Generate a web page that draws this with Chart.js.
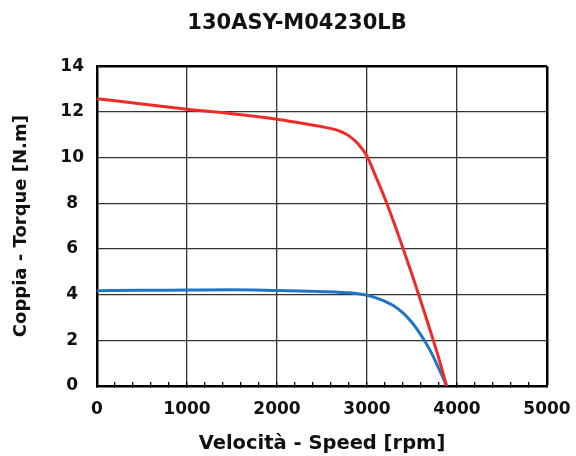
<!DOCTYPE html>
<html>
<head>
<meta charset="utf-8">
<script src="https://cdn.jsdelivr.net/npm/chart.js@4/dist/chart.umd.min.js"></script>
<style>
  html, body { margin: 0; padding: 0; background: #fff; }
  #box { width: 576px; height: 456px; }
</style>
</head>
<body>
<div id="box"><canvas id="myChart"></canvas></div>
<script>
// values
const speed = [0, 500, 1000, 1500, 2000, 2250, 2500, 2650, 2800, 2900, 3000, 3100, 3200, 3300, 3400, 3500, 3600, 3700, 3800, 3885];
const peakTorque = [12.58, 12.35, 12.12, 11.92, 11.68, 11.52, 11.35, 11.22, 10.95, 10.6, 10.06, 9.15, 8.2, 7.15, 6.03, 4.88, 3.69, 2.46, 1.19, 0];
const ratedTorque = [4.17, 4.19, 4.2, 4.21, 4.18, 4.16, 4.13, 4.11, 4.08, 4.04, 3.97, 3.86, 3.7, 3.5, 3.2, 2.78, 2.23, 1.57, 0.75, 0];

const speedTicks = [0, 1000, 2000, 3000, 4000, 5000];
const torqueTicks = [0, 2, 4, 6, 8, 10, 12, 14];

const font = 'DejaVu Sans';
const gridColor = '#333';

function points(ys) {
    return speed.map((x, i) => ({ x: x, y: ys[i] }));
}

// put the title where the original has it (a bit left of the plot centre)
const titleShift = {
    id: 'titleShift',
    afterLayout(chart) {
        chart.titleBlock.left = 18;
        chart.titleBlock.right = 576;
    }
};

const ctx = document.getElementById('myChart').getContext('2d');
const chart = new Chart(ctx, {
    type: 'line',
    data: {
        datasets: [{
            label: 'Peak',
            data: points(peakTorque),
            borderColor: '#ee2b26',
            borderWidth: 3,
            pointRadius: 0,
            cubicInterpolationMode: 'monotone'
        }, {
            label: 'Rated',
            data: points(ratedTorque),
            borderColor: '#1f77c4',
            borderWidth: 3,
            pointRadius: 0,
            cubicInterpolationMode: 'monotone'
        }]
    },
    options: {
        responsive: true,
        maintainAspectRatio: false,
        animation: false,
        layout: { padding: { top: 0, right: 29, bottom: 0, left: 0 } },
        plugins: {
            legend: { display: false },
            tooltip: { enabled: false },
            title: {
                display: true,
                text: '130ASY-M04230LB',
                color: '#111',
                font: { family: font, size: 21, weight: 'bold' },
                padding: { top: 11, bottom: 30 }
            }
        },
        scales: {
            x: {
                type: 'linear',
                min: 0,
                max: 5000,
                afterFit: (scale) => {
                    scale.height = 70;
                    // the label overhang is already covered by the layout padding
                    scale.paddingLeft = 0;
                    scale.paddingRight = 0;
                },
                border: { color: '#000', width: 2.5 },
                grid: {
                    // only the 1000s get a full line, the 200s get a small inner tick
                    color: (c) => speedTicks.includes(c.tick.value) ? (c.tick.value === 5000 ? '#000' : gridColor) : 'rgba(0,0,0,0)',
                    lineWidth: (c) => c.tick.value === 5000 ? 2.5 : 1.3,
                    drawTicks: true,
                    tickLength: -4,
                    tickColor: '#000',
                    tickWidth: 1.3
                },
                ticks: {
                    stepSize: 200,
                    autoSkip: false,
                    maxRotation: 0,
                    padding: 17,
                    color: '#111',
                    font: { family: font, size: 17, weight: 'bold' },
                    callback: (v) => speedTicks.includes(v) ? String(v) : ''
                },
                title: {
                    display: true,
                    text: 'Velocità - Speed [rpm]',
                    color: '#111',
                    font: { family: font, size: 19.5, weight: 'bold' },
                    padding: { top: 0, bottom: 0 }
                }
            },
            y: {
                min: 0,
                max: 14,
                afterFit: (scale) => { scale.width = 97; },
                afterBuildTicks: (scale) => { scale.ticks = torqueTicks.map(v => ({ value: v })); },
                border: { color: '#000', width: 2.5 },
                grid: {
                    color: (c) => c.tick.value === 14 ? '#000' : gridColor,
                    lineWidth: (c) => c.tick.value === 14 ? 2.5 : 1.3,
                    drawTicks: false
                },
                ticks: {
                    padding: 13,
                    crossAlign: 'center',
                    color: '#111',
                    font: { family: font, size: 17, weight: 'bold' }
                },
                title: {
                    display: true,
                    text: 'Coppia - Torque [N.m]',
                    color: '#111',
                    font: { family: font, size: 18, weight: 'bold' },
                    padding: { top: 11, bottom: 0 }
                }
            }
        }
    },
    plugins: [titleShift]
});
</script>
</body>
</html>
